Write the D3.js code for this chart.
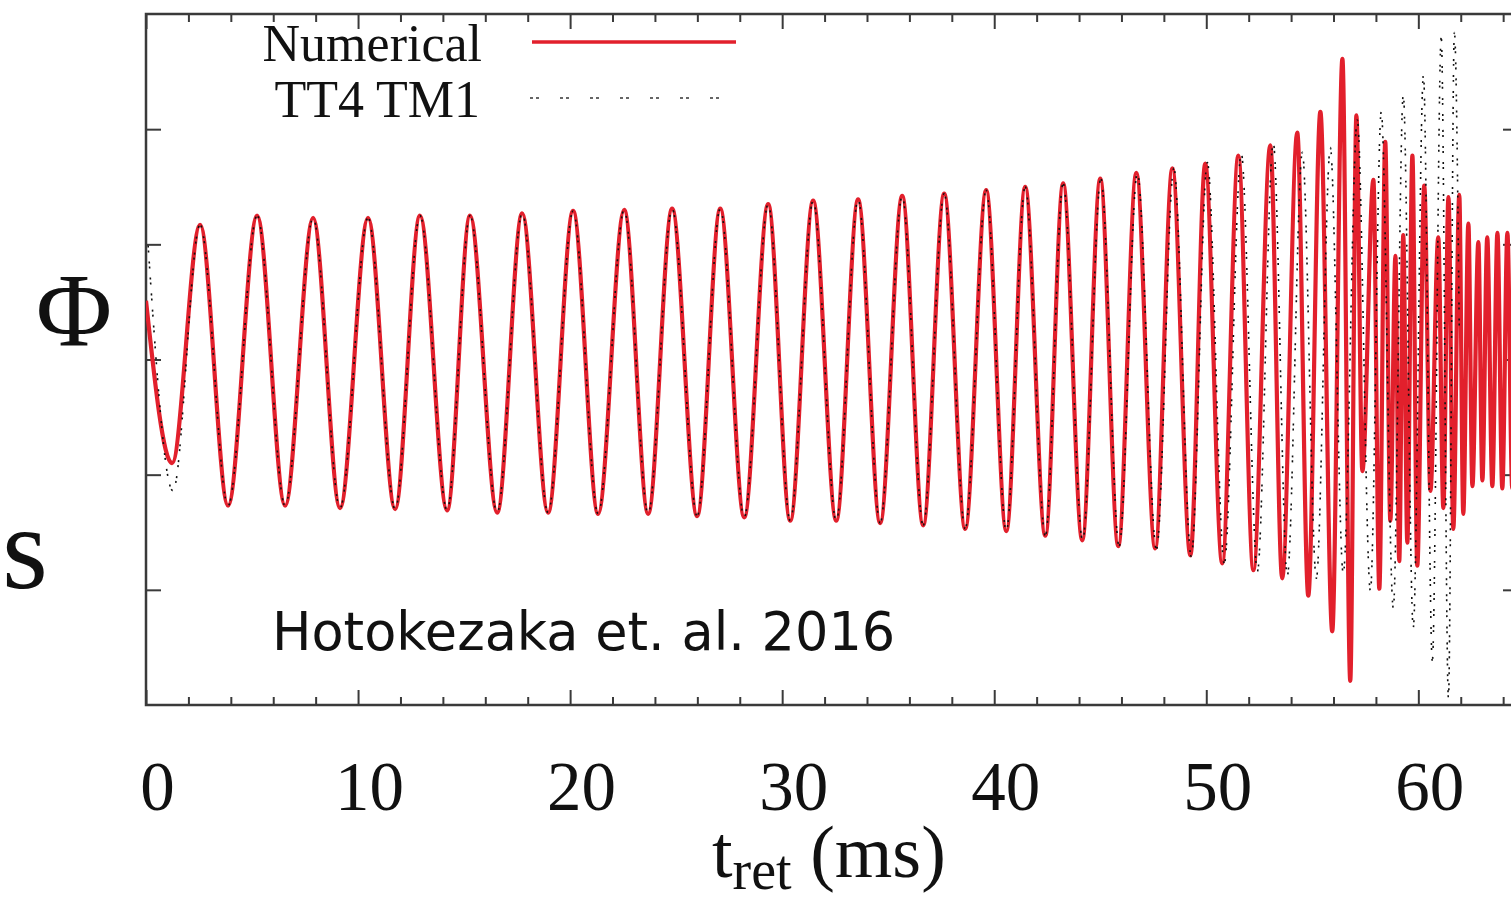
<!DOCTYPE html>
<html><head><meta charset="utf-8">
<script src="https://cdn.jsdelivr.net/npm/d3@7"></script>
<style>body{margin:0;background:#fff;overflow:hidden}</style>
</head><body>
<script>
// ---- data (extrema of the waveforms) ----
const numT = [0.00,1.23,2.55,3.87,5.24,6.56,7.88,9.15,10.47,11.75,12.92,14.20,15.28,16.56,17.74,18.96,20.14,21.32,22.55,23.68,24.81,25.99,27.08,28.21,29.34,30.38,31.46,32.55,33.58,34.62,35.66,36.65,37.64,38.63,39.62,40.57,41.46,42.41,43.25,44.15,45.00,45.85,46.70,47.59,48.40,49.25,49.95,50.75,51.51,52.22,53.02,53.58,54.29,54.81,55.38,55.94,56.42,56.79,57.08,57.36,57.88,58.16,58.44,58.68,58.92,59.10,59.29,59.48,59.72,59.95,60.28,60.57,60.94,61.18,61.42,61.65,61.93,62.12,62.36,62.55,62.83,63.02,63.25,63.49,63.73,63.96,64.20,64.43,64.67];
const numH = [0.51,-0.90,1.17,-1.27,1.25,-1.27,1.23,-1.29,1.23,-1.30,1.25,-1.31,1.25,-1.33,1.27,-1.33,1.29,-1.34,1.30,-1.34,1.31,-1.36,1.31,-1.37,1.35,-1.40,1.38,-1.40,1.39,-1.42,1.42,-1.44,1.44,-1.47,1.47,-1.49,1.50,-1.53,1.53,-1.57,1.57,-1.62,1.62,-1.64,1.66,-1.70,1.70,-1.77,1.77,-1.83,1.86,-1.90,1.97,-2.05,2.15,-2.36,2.61,-2.79,2.12,-0.97,1.56,-1.99,1.89,-1.40,0.90,-1.75,1.08,-1.59,1.77,-1.79,1.51,-1.14,1.06,-1.29,1.41,-1.47,1.43,-1.34,1.18,-1.10,1.02,-1.05,1.06,-1.10,1.10,-1.12,1.10,-1.12,1.08];
const tt4T = [0.10,1.27,2.55,3.87,5.24,6.56,7.88,9.15,10.47,11.75,12.92,14.20,15.28,16.56,17.74,18.96,20.14,21.32,22.55,23.68,24.81,25.99,27.08,28.21,29.34,30.38,31.46,32.55,33.58,34.62,35.66,36.65,37.64,38.63,39.62,40.57,41.46,42.41,43.25,44.17,45.03,45.89,46.75,47.65,48.47,49.29,50.05,50.85,51.65,52.41,53.16,53.82,54.53,55.19,55.85,56.46,57.12,57.74,58.25,58.82,59.29,59.76,60.24,60.66,61.08,61.42,61.70,61.93];
const tt4H = [0.99,-1.14,1.17,-1.27,1.25,-1.27,1.23,-1.29,1.23,-1.30,1.25,-1.31,1.25,-1.33,1.27,-1.33,1.29,-1.34,1.30,-1.34,1.31,-1.36,1.31,-1.37,1.35,-1.40,1.38,-1.40,1.39,-1.42,1.42,-1.44,1.44,-1.47,1.47,-1.49,1.50,-1.53,1.53,-1.57,1.57,-1.62,1.62,-1.65,1.66,-1.71,1.71,-1.77,1.79,-1.84,1.88,-1.88,1.80,-1.90,1.84,-1.86,2.08,-2.01,2.15,-2.16,2.30,-2.33,2.47,-2.62,2.80,-2.94,2.84,0.25];
const xTicks = [0,10,20,30,40,50,60];
const xMinor = [2,4,6,8,12,14,16,18,22,24,26,28,32,34,36,38,42,44,46,48,52,54,56,58,62,64];
const yTicks = [-2,-1,0,1,2];
const seriesNames = ["Numerical","TT4 TM1"];
const credit = "Hotokezaka et. al. 2016";
const xTitle = "t", xTitleSub = "ret", xTitleUnit = "(ms)";
const sideLabels = ["\u03A6","s"];

// ---- layout ----
const W = 1511, H = 905;
const L = 146, R = 1518, T = 14, B = 705;
const red = "#e2202c", frameCol = "#3a3a3a";

const svg = d3.select("body").append("svg").attr("width", W).attr("height", H)
  .style("display","block");

const x = d3.scaleLinear().domain([0, 64.7]).range([L, R]);
const y = d3.scaleLinear().domain([-3, 3]).range([B, T]);

svg.append("defs").append("clipPath").attr("id","clip")
  .append("rect").attr("x", L).attr("y", T).attr("width", R-L).attr("height", B-T);

// axes (ticks inward)
function styleAxis(g){ g.select(".domain").remove(); g.selectAll("line").attr("stroke", frameCol).attr("stroke-width", 2); }
svg.append("g").attr("transform",`translate(0,${B})`)
  .call(d3.axisBottom(x).tickValues(xMinor).tickSize(-8).tickFormat("")).call(styleAxis);
svg.append("g").attr("transform",`translate(0,${T})`)
  .call(d3.axisTop(x).tickValues(xMinor).tickSize(-8).tickFormat("")).call(styleAxis);
svg.append("g").attr("transform",`translate(0,${T})`)
  .call(d3.axisTop(x).tickValues(xTicks).tickSize(-15).tickFormat("")).call(styleAxis);
const bx = svg.append("g").attr("transform",`translate(0,${B})`)
  .call(d3.axisBottom(x).tickValues(xTicks).tickSize(-15).tickFormat(d3.format("d"))).call(styleAxis);
bx.selectAll("text").attr("y", 105).attr("dy", 0).attr("dx", 11)
  .attr("fill","#111").style("font-family","'Liberation Serif','Times New Roman',serif").style("font-size","69px");
svg.append("g").attr("transform",`translate(${L},0)`)
  .call(d3.axisLeft(y).tickValues(yTicks).tickSize(-15).tickFormat("")).call(styleAxis);
svg.append("g").attr("transform",`translate(${R},0)`)
  .call(d3.axisRight(y).tickValues(yTicks).tickSize(-15).tickFormat("")).call(styleAxis);

// frame
svg.append("rect").attr("x", L).attr("y", T).attr("width", R-L).attr("height", B-T)
  .attr("fill","none").attr("stroke", frameCol).attr("stroke-width", 2.5);

// curves
const line = d3.line().x(d => x(d[0])).y(d => y(d[1])).curve(d3.curveMonotoneX);
const numData = numT.map((t,i) => [t, numH[i]]);
const tt4Data = tt4T.map((t,i) => [t, tt4H[i]]);
const plot = svg.append("g").attr("clip-path","url(#clip)");
plot.append("path").datum(numData).attr("d", line).attr("fill","none")
  .attr("stroke", red).attr("stroke-width", 4.2).attr("stroke-linejoin","round");
plot.append("path").datum(tt4Data).attr("d", line).attr("fill","none")
  .attr("stroke", "#111").attr("stroke-width", 1.6).attr("stroke-dasharray","2,3,2,9");

// legend
const serif = "'Liberation Serif','Times New Roman',serif";
svg.append("text").attr("x", 482).attr("y", 61).attr("text-anchor","end")
  .style("font-family", serif).style("font-size","52px").attr("fill","#111").text(seriesNames[0]);
svg.append("line").attr("x1", 532).attr("x2", 736).attr("y1", 42).attr("y2", 42)
  .attr("stroke", red).attr("stroke-width", 3.5);
svg.append("text").attr("x", 480).attr("y", 117).attr("text-anchor","end")
  .style("font-family", serif).style("font-size","52px").attr("fill","#111").text(seriesNames[1]);
svg.append("line").attr("x1", 530).attr("x2", 736).attr("y1", 98).attr("y2", 98)
  .attr("stroke", "#333").attr("stroke-width", 1.6).attr("stroke-dasharray","3,3,3,21");

// credit
svg.append("text").attr("x", 272).attr("y", 650)
  .style("font-family","'DejaVu Sans',Verdana,sans-serif").style("font-size","52.5px").attr("fill","#111")
  .text(credit);

// x title
const xt = svg.append("text").attr("x", 712).attr("y", 877)
  .style("font-family", serif).style("font-size","74px").attr("fill","#111");
xt.append("tspan").text(xTitle);
xt.append("tspan").attr("dy", 12).style("font-size","56px").text(xTitleSub);
xt.append("tspan").attr("dy", -12).text(" " + xTitleUnit);

// cropped side labels
svg.append("text").attr("x", 36).attr("y", 345)
  .style("font-family", serif).style("font-size","104px").attr("fill","#111").text(sideLabels[0]);
svg.append("text").attr("x", 2).attr("y", 588)
  .style("font-family", serif).style("font-size","118px").attr("fill","#111").text(sideLabels[1]);
</script>
</body></html>
